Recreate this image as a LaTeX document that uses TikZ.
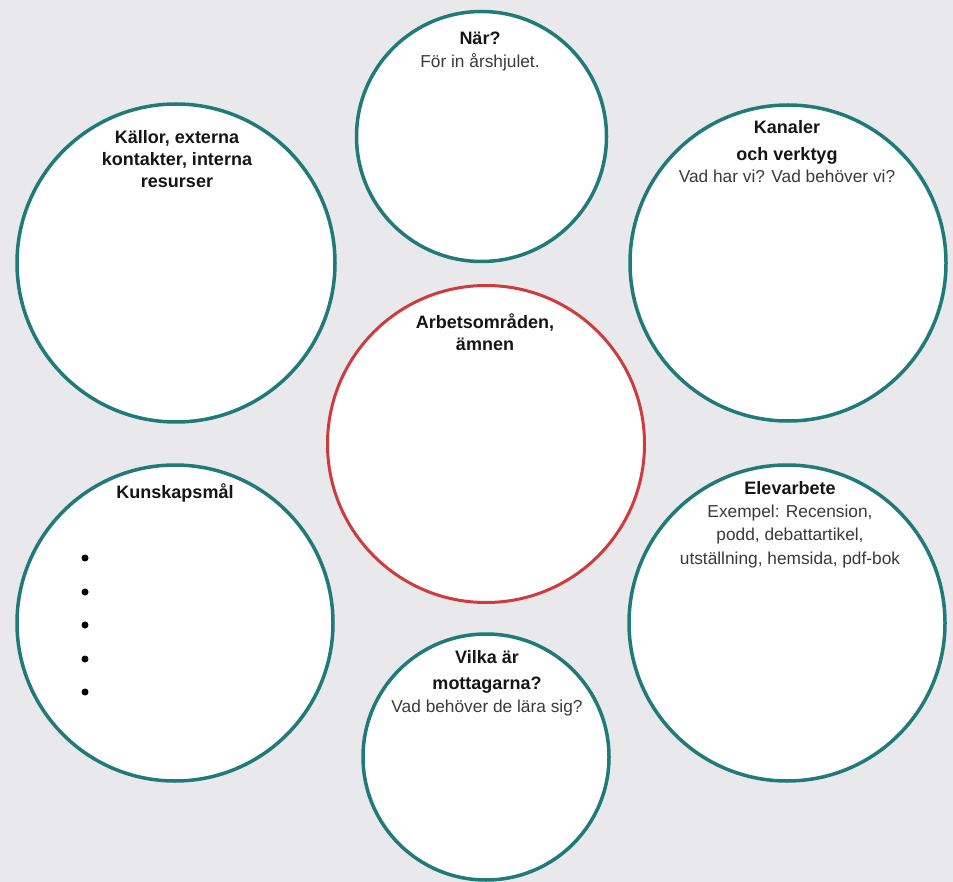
\documentclass[tikz,border=0pt]{standalone}
\usepackage{fontspec}
\setmainfont{Liberation Sans}
\definecolor{bgcol}{HTML}{E9E9EB}
\definecolor{tealring}{HTML}{1F7A78}
\definecolor{redring}{HTML}{CF3A3D}
\definecolor{titletxt}{HTML}{151515}
\definecolor{subtxt}{HTML}{3A3A3A}
\begin{document}
\begin{tikzpicture}[x=1pt,y=-1pt,
  ring/.style={circle, draw=tealring, line width=3.5pt, fill=white, inner sep=0pt},
  redcircle/.style={circle, draw=redring, line width=3pt, fill=white, inner sep=0pt},
  ttl/.style={anchor=base, inner sep=0pt, text=titletxt, font=\fontsize{18}{21}\selectfont\bfseries},
  sub/.style={anchor=base, inner sep=0pt, text=subtxt, font=\fontsize{17.3}{20}\selectfont},
  bullet/.style={circle, fill=black, inner sep=0pt, minimum size=7pt}]
\fill[bgcol] (0,0) rectangle (953,882);
\useasboundingbox (0,0) rectangle (953,882);

% circles
\node[ring, minimum size=250pt] (nar) at (481.5,136.5) {};
\node[ring, minimum size=318pt] (kallor) at (176,263) {};
\node[ring, minimum size=316pt] (kanaler) at (788,263) {};
\node[redcircle, minimum size=317pt] (arbets) at (486,444) {};
\node[ring, minimum size=316pt] (kunskap) at (175,623) {};
\node[ring, minimum size=316pt] (elev) at (787,623) {};
\node[ring, minimum size=246pt] (vilka) at (486,757) {};

% texts
\node[ttl] (nar1) at (480,44.5) {När?};
\node[sub] (nar2) at (480,67.5) {För in årshjulet.};

\node[ttl] (kal1) at (177,143.5) {Källor, externa};
\node[ttl] (kal2) at (177,165.5) {kontakter, interna};
\node[ttl] (kal3) at (177,187.5) {resurser};

\node[ttl] (kan1) at (787,133.5) {Kanaler};
\node[ttl] (kan2) at (787,160.5) {och verktyg};
\node[sub] (kan3) at (787,182.5) {Vad har vi? Vad behöver vi?};

\node[ttl] (arb1) at (485,328.5) {Arbetsområden,};
\node[ttl] (arb2) at (485,350.5) {ämnen};

\node[ttl] (kun1) at (175,498.5) {Kunskapsmål};
\node[bullet] (b1) at (85,558) {};
\node[bullet] (b2) at (85,592) {};
\node[bullet] (b3) at (85,625) {};
\node[bullet] (b4) at (85,659) {};
\node[bullet] (b5) at (85,692) {};

\node[ttl] (ele1) at (790,494.5) {Elevarbete};
\node[sub] (ele2) at (790,517.5) {Exempel: Recension,};
\node[sub] (ele3) at (790,540.5) {podd, debattartikel,};
\node[sub] (ele4) at (790,564.5) {utställning, hemsida, pdf-bok};

\node[ttl] (vil1) at (487,663.5) {Vilka är};
\node[ttl] (vil2) at (487,689.5) {mottagarna?};
\node[sub] (vil3) at (487,712.5) {Vad behöver de lära sig?};
\end{tikzpicture}
\end{document}
